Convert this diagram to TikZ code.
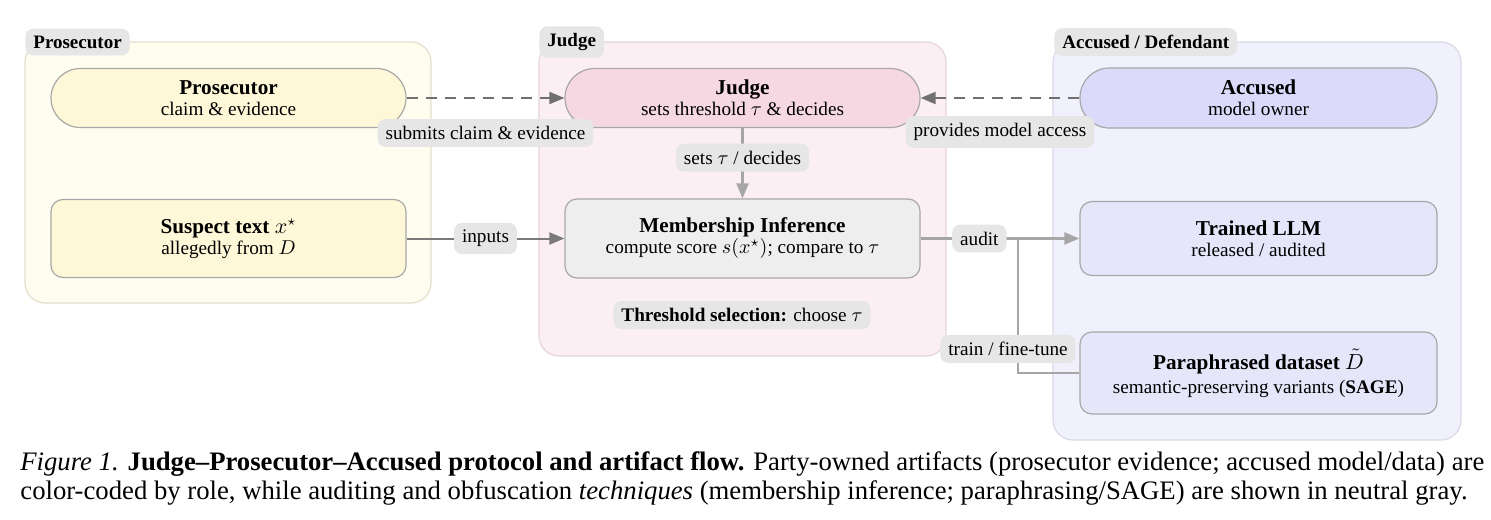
\documentclass[tikz,border=0pt]{standalone}
\usepackage{fontspec}
\setmainfont{Liberation Serif}
\usetikzlibrary{arrows.meta}
\definecolor{pansY}{HTML}{FEFDEF}
\definecolor{panbY}{HTML}{E2E0CC}
\definecolor{nodY}{HTML}{FEF8D8}
\definecolor{pansP}{HTML}{FBEFF3}
\definecolor{panbP}{HTML}{E5D6DB}
\definecolor{nodP}{HTML}{F6D8E2}
\definecolor{pansB}{HTML}{F1F1FD}
\definecolor{panbB}{HTML}{D9D9E8}
\definecolor{nodB}{HTML}{DBDAFA}
\definecolor{nodB2}{HTML}{E6E6FB}
\definecolor{nodG}{HTML}{EEEEEE}
\definecolor{lblG}{HTML}{E6E6E6}
\definecolor{nodeborder}{HTML}{A8A8A8}
\definecolor{dashcol}{HTML}{707070}
\definecolor{solidcol}{HTML}{7A7A7A}
\definecolor{lightcol}{HTML}{A6A6A6}
\tikzset{
  panel/.style={draw=#1, line width=0.6pt, rounded corners=10pt},
  tab/.style={fill=lblG, rounded corners=4pt, font=\fontsize{9.5}{11}\selectfont\bfseries, inner xsep=4pt, inner ysep=3.5pt, anchor=west},
  stadium/.style={draw=nodeborder, line width=0.6pt, fill=#1, rounded corners=14.7pt, minimum width=177.5pt, minimum height=29.5pt, align=center, inner sep=0pt},
  boxnode/.style={draw=nodeborder, line width=0.6pt, fill=#1, rounded corners=6pt, minimum width=177.5pt, align=center, inner sep=0pt},
  elabel/.style={fill=lblG, rounded corners=4pt, font=\fontsize{9.6}{11}\selectfont, inner xsep=4pt, inner ysep=3.6pt, text=black},
  tip/.style={-{Triangle[length=7.5pt,width=6pt]}},
  dashline/.style={draw=dashcol, line width=1pt, dash pattern=on 5.5pt off 4pt, tip},
  solidline/.style={draw=solidcol, line width=1pt},
  lightline/.style={draw=lightcol, line width=1.1pt},
}
\newcommand{\ttlA}[3][-1.5pt]{{\fontsize{10.6}{12}\selectfont\bfseries #2}\\[#1]{\fontsize{9.6}{11}\selectfont #3}}
\begin{document}
\begin{tikzpicture}[x=0.5pt,y=-0.5pt]
\useasboundingbox (0,0) rectangle (1491,519);
% panels
\path[panel=panbY, fill=pansY] (25,42) rectangle (431,303);
\path[panel=panbP, fill=pansP] (539,42) rectangle (946,356);
\path[panel=panbB, fill=pansB] (1053,42) rectangle (1461,440);
\node[tab] (tabP) at (25,42) {Prosecutor};
\node[tab] (tabJ) at (539,42) {Judge};
\node[tab] (tabA) at (1054,42) {Accused / Defendant};
% nodes
\node[stadium=nodY] (pros) at (228.5,98) {\ttlA{Prosecutor}{claim \& evidence}};
\node[boxnode=nodY, minimum height=39pt] (susp) at (228.5,238.5) {\ttlA{Suspect text $x^\star$}{allegedly from $D$}};
\node[stadium=nodP] (judge) at (742.5,98) {\ttlA{Judge}{sets threshold $\tau$ \& decides}};
\node[boxnode=nodG, minimum height=39.5pt] (mi) at (742.5,238.5) {\ttlA{Membership Inference}{compute score $s(x^\star)$; compare to $\tau$}};
\node[elabel] (thr) at (742,315) {\textbf{Threshold selection:} choose $\tau$};
\node[stadium=nodB, minimum width=178.5pt, minimum height=30pt] (acc) at (1258.5,98) {\ttlA{Accused}{model owner}};
\node[boxnode=nodB2, minimum width=178.5pt, minimum height=37pt] (llm) at (1258.5,238.5) {\ttlA{Trained LLM}{released / audited}};
\node[boxnode=nodB2, minimum width=178.5pt, minimum height=41pt] (par) at (1258.5,373) {\ttlA[0pt]{Paraphrased dataset $\tilde{D}$}{semantic-preserving variants (\textbf{SAGE})}};
% connectors
\draw[dashline] (pros.east) -- node[elabel, yshift=-17.5pt] (lsub) {submits claim \& evidence} (judge.west);
\draw[dashline] (acc.west) -- node[elabel, yshift=-17pt] (lprov) {provides model access} (judge.east);
\draw[lightline, tip] (judge.south) -- node[elabel, pos=0.42] (lsets) {sets $\tau$ / decides} (mi.north);
\draw[solidline, tip] (susp.east) -- node[elabel] (linp) {inputs} (mi.west);
\coordinate (junc) at (1018,238.5);
\draw[lightline, tip] (mi.east) -- node[elabel, pos=0.37] (laud) {audit} (llm.west);
\draw[lightline] (par.west) -| (junc);
\node[elabel] (ltrain) at (1008,349) {train / fine-tune};
% caption
\node[anchor=base west, inner sep=0pt, font=\fontsize{13.35}{15}\selectfont] (cap1) at (20,470) {\textit{Figure 1.} \textbf{Judge--Prosecutor--Accused protocol and artifact flow.} Party-owned artifacts (prosecutor evidence; accused model/data) are};
\node[anchor=base west, inner sep=0pt, font=\fontsize{13.35}{15}\selectfont] (cap2) at (20,499) {color-coded by role, while auditing and obfuscation \textit{techniques} (membership inference; paraphrasing/SAGE) are shown in neutral gray.};
\end{tikzpicture}
\end{document}
